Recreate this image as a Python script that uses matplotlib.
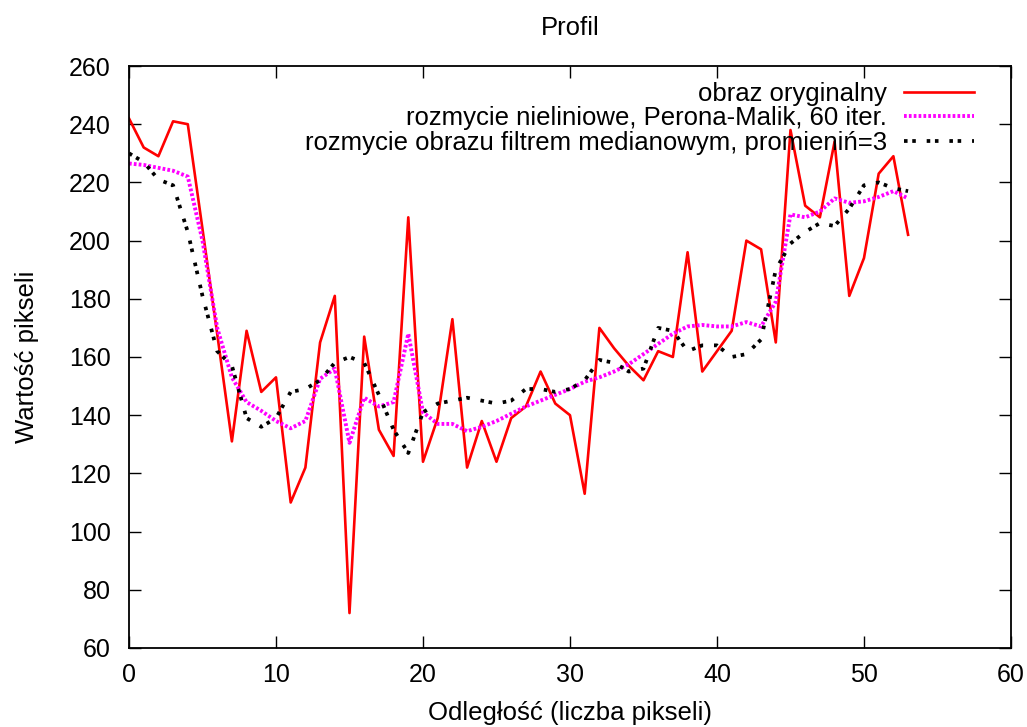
import matplotlib
matplotlib.use("Agg")
import matplotlib.pyplot as plt
import numpy as np

plt.rcParams["font.family"] = ["Liberation Sans", "DejaVu Sans"]
plt.rcParams["font.size"] = 18.5

# profile values (x = 0..53)
original = [242, 232, 229, 241, 240, 204, 168, 131, 169, 148,
            153, 110, 122, 165, 181, 72, 167, 135, 126, 208,
            124, 139, 173, 122, 138, 124, 139, 143, 155, 144,
            140, 113, 170, 163, 157, 152, 162, 160, 196, 155,
            162, 169, 200, 197, 165, 238, 212, 208, 234, 181,
            194, 223, 229, 202]
perona_malik = [226.5, 226, 225, 224, 222, 200, 170, 153, 144.5, 141.5,
                138, 135.5, 138, 152.5, 156, 130.5, 146, 143, 144.5, 168,
                141, 137, 137, 134.5, 136, 138, 140.5, 143, 145, 147,
                149, 151.5, 153, 155, 157.5, 161, 164.5, 168, 170.5, 171,
                170.5, 170.5, 172, 170.5, 179, 209, 208, 210, 214.5, 213,
                213.5, 215, 217, 214.5]
median = [230, 227, 221, 219, 203, 181, 162, 157, 139, 136,
          139, 148, 149, 152, 158, 160, 158, 147, 135, 127,
          141, 144, 145, 146, 145, 144, 145, 149, 149, 148,
          149, 152, 159, 158, 155, 156, 170, 169, 162, 164,
          164, 160, 161, 166, 190, 199, 203, 206, 205, 211,
          219, 220, 218, 217]
x = np.arange(len(original))

labels = ["obraz oryginalny",
          "rozmycie nieliniowe, Perona-Malik, 60 iter.",
          "rozmycie obrazu filtrem medianowym, promieniń=3"]

fig, ax = plt.subplots(figsize=(10.27, 7.27), dpi=100)
fig.subplots_adjust(left=0.1256, right=0.9844, bottom=0.1087, top=0.9092)

ax.plot(x, original, color="#ff0000", linewidth=1.9, label=labels[0])
ax.plot(x, perona_malik, color="#ff00ff", linewidth=2.8,
        linestyle=(0, (0.7, 0.55)), label=labels[1])
ax.plot(x, median, color="black", linewidth=2.7,
        linestyle=(0, (0.95, 1.25, 0.95, 2.9)), label=labels[2])

ax.set_xlim(0, 60)
ax.set_ylim(60, 260)
ax.set_xticks(np.arange(0, 61, 10))
ax.set_yticks(np.arange(60, 261, 20))
ax.tick_params(direction="in", length=8.5, width=1, top=True, right=True,
               pad=11, labelsize=18)
ax.tick_params(axis="y", pad=13)
for s in ax.spines.values():
    s.set_linewidth(1.3)

ax.set_title("Profil", fontsize=18.5, pad=22)
ax.set_xlabel("Odległość (liczba pikseli)", labelpad=10)
ax.set_ylabel("Wartość pikseli", labelpad=22)

ax.legend(loc="upper right", bbox_to_anchor=(0.979, 1.004), frameon=False,
          markerfirst=False, handlelength=2.75, labelspacing=0.02,
          borderaxespad=0.3, handletextpad=0.65, fontsize=18.5)

fig.savefig("out.png", dpi=100)
